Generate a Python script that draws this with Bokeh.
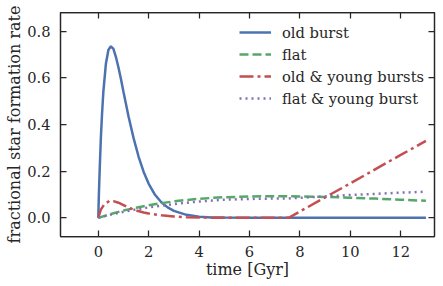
from bokeh.plotting import figure
from bokeh.models import (LinearAxis, Range1d, Legend, LegendItem, FixedTicker,
                          PrintfTickFormatter, ColumnDataSource, CustomLabelingPolicy)
from bokeh.embed import file_html
from bokeh.resources import INLINE

# ---- data ----
t_old = [0, 0.02, 0.05, 0.1, 0.15, 0.2, 0.3, 0.4, 0.5, 0.6, 0.7, 0.8, 0.9, 1.0,
         1.2, 1.4, 1.6, 1.8, 2.0, 2.25, 2.5, 2.75, 3.0, 3.5, 4.0, 4.5, 5.0, 6.0, 13.0]
sfr_old = [0, 0.09, 0.19, 0.34, 0.45, 0.54, 0.66, 0.72, 0.736, 0.725, 0.69, 0.645,
           0.595, 0.54, 0.435, 0.342, 0.262, 0.197, 0.146, 0.099, 0.067, 0.045,
           0.030, 0.013, 0.005, 0.002, 0.001, 0.0, 0.0]

t_flat = [0, 0.5, 1, 1.5, 2, 2.5, 3, 3.5, 4, 4.5, 5, 6, 7, 8, 9, 10, 11, 12, 13]
sfr_flat = [0, 0.0168, 0.0313, 0.0437, 0.0543, 0.0631, 0.0706, 0.0766, 0.0815,
            0.0854, 0.0884, 0.0919, 0.0930, 0.0921, 0.0898, 0.0865, 0.0825,
            0.0780, 0.0733]

t_oy = [0, 0.1, 0.25, 0.45, 0.6, 0.8, 1.0, 1.2, 1.5, 1.8, 2.0, 2.5, 3.0, 3.5,
        4.0, 5.0, 6.0, 7.55, 9, 10, 11, 12, 13]
sfr_oy = [0, 0.035, 0.06, 0.073, 0.072, 0.065, 0.055, 0.044, 0.032, 0.023, 0.019,
          0.011, 0.006, 0.003, 0.0015, 0.0003, 0.0, 0.0, 0.088, 0.148, 0.209,
          0.270, 0.330]

t_fy = [0, 0.5, 1, 1.5, 2, 2.5, 3, 3.5, 4, 4.5, 5, 6, 7, 7.5, 8, 9, 10, 11, 12, 13]
sfr_fy = [0, 0.014, 0.026, 0.036, 0.045, 0.052, 0.059, 0.065, 0.070, 0.074, 0.078,
          0.081, 0.083, 0.083, 0.086, 0.092, 0.098, 0.103, 0.108, 0.112]

labels = ["old burst", "flat", "old & young bursts", "flat & young burst"]
x_ticks = [0, 2, 4, 6, 8, 10, 12]
y_ticks = [0.0, 0.2, 0.4, 0.6, 0.8]

# ---- styling ----
INK = "#262626"
FONT = "DejaVu Serif"
FS_TICK = "14.67px"
FS_LABEL = "16px"
colors = ["#4C72B0", "#55A868", "#C44E52", "#8172B2"]
dashes = ["solid", "9 4", "14 4 3 4", "2 4"]

p = figure(width=440, height=283, output_backend="svg", toolbar_location=None,
           x_range=Range1d(-1.5, 13.34), y_range=Range1d(-0.080, 0.881),
           min_border_left=60, min_border_right=6, min_border_top=12,
           min_border_bottom=47, background_fill_color="white",
           border_fill_color="white")
p.grid.visible = False
p.outline_line_color = INK
p.outline_line_width = 1.25

p.xaxis.axis_label = "time [Gyr]"
p.yaxis.axis_label = "fractional star formation rate"
p.xaxis.ticker = FixedTicker(ticks=x_ticks)
p.yaxis.ticker = FixedTicker(ticks=y_ticks)
p.yaxis.formatter = PrintfTickFormatter(format="%.1f")

for ax in (p.xaxis[0], p.yaxis[0]):
    ax.axis_line_color = INK
    ax.axis_line_width = 1.25
    ax.major_tick_in = 6
    ax.major_tick_out = 0
    ax.major_tick_line_color = INK
    ax.major_tick_line_width = 1.25
    ax.minor_tick_line_color = None
    ax.major_label_text_font = FONT
    ax.major_label_text_font_size = FS_TICK
    ax.major_label_text_color = INK
    ax.axis_label_text_font = FONT
    ax.axis_label_text_font_size = FS_LABEL
    ax.axis_label_text_font_style = "normal"
    ax.axis_label_text_color = INK
p.yaxis.major_label_standoff = 10
p.yaxis.axis_label_standoff = 0
p.xaxis.major_label_standoff = 9
p.xaxis.axis_label_standoff = 0

hide_all = CustomLabelingPolicy(code="""
for (const i of Array.from(indices)) { indices.unset(i) }
return indices
""")
for loc, ticks in (("right", y_ticks), ("above", x_ticks)):
    ax = LinearAxis(ticker=FixedTicker(ticks=ticks), major_label_text_font_size="1px",
                    major_label_policy=hide_all,
                    major_label_standoff=0, major_tick_in=6, major_tick_out=0,
                    major_tick_line_color=INK, major_tick_line_width=1.25,
                    minor_tick_line_color=None, axis_line_color=INK,
                    axis_line_width=1.25)
    p.add_layout(ax, loc)

series = [(t_old, sfr_old), (t_flat, sfr_flat), (t_oy, sfr_oy), (t_fy, sfr_fy)]
items = []
for (t, s), c, d, lab in zip(series, colors, dashes, labels):
    src = ColumnDataSource(dict(t=t, s=s))
    r = p.line("t", "s", source=src, line_color=c, line_width=2.5, line_dash=d)
    items.append(LegendItem(label=lab, renderers=[r]))

legend = Legend(items=items, location=(179, 128), padding=0, margin=0,
                border_line_color=None, background_fill_alpha=0,
                label_text_font=FONT, label_text_font_size=FS_TICK,
                label_text_color=INK, glyph_width=32, glyph_height=20,
                label_height=20, spacing=2, label_standoff=11)
p.add_layout(legend)

open("out.html", "w").write(file_html(p, INLINE))
